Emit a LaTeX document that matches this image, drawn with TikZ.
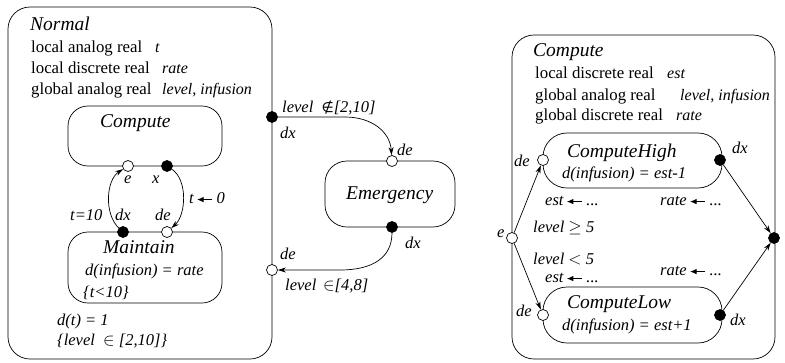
\documentclass[tikz,border=0pt]{standalone}
\usepackage{fontspec}
\setmainfont{Liberation Serif}
\newfontfamily\symfont{DejaVu Sans}
\usetikzlibrary{arrows.meta}
\newcommand{\asgn}{\tikz[baseline=-0.45ex,x=1pt,y=1pt]{\draw[line width=1pt,-{Latex[length=6.5pt,width=5.5pt]}] (15,0)--(0,0);}}
\begin{document}
\begin{tikzpicture}[x=1pt,y=-1pt,
  txt/.style={anchor=base west,inner sep=0pt,font=\fontsize{16.8}{20}\selectfont},
  ivar/.style={anchor=base west,inner sep=0pt,font=\fontsize{16}{19}\selectfont\itshape},
  ttl/.style={anchor=base west,inner sep=0pt,font=\fontsize{19.5}{23}\selectfont\itshape},
  lbl/.style={anchor=base west,inner sep=0pt,font=\fontsize{16.5}{19}\selectfont\itshape},
  openport/.style={circle,draw,fill=white,inner sep=0pt,minimum size=11pt,line width=0.7pt},
  fullport/.style={circle,draw,fill=black,inner sep=0pt,minimum size=11pt,line width=0.7pt},
  box/.style={draw,rounded corners=22pt,line width=0.7pt},
  conn/.style={line width=0.7pt,-{Stealth[length=8pt,width=5pt]}}]
\useasboundingbox (0,0) rectangle (785,362);

% ---------- Normal ----------
\draw[box] (8,7) rectangle (272,359);
\node[ttl] (tNormal) at (30,30) {Normal};
\node[txt] (n1) at (31,52) {local analog real};
\node[ivar] (n1v) at (155,52) {t};
\node[txt] (n2) at (31,73) {local discrete real};
\node[ivar] (n2v) at (162,73) {rate};
\node[txt] (n3) at (31,94) {global analog real};
\node[ivar] (n3v) at (162,94) {level, infusion};

% Compute (inner)
\draw[box,rounded corners=20pt] (68,106) rectangle (222,166);
\node[ttl] (tCompute) at (100,127) {Compute};
% Maintain
\draw[box,rounded corners=20pt] (68,232) rectangle (222,303);
\node[ttl] (tMaintain) at (103,253) {Maintain};
\node[lbl] (mflow) at (85,275) {d(infusion) = rate};
\node[lbl] (minv) at (83,297) {\{t<10\}};
\node[lbl] (dt) at (57,325) {d(t) = 1};
\node[lbl] (ninv) at (57,345) {\{level \ $\in$ [2,10]\}};

% ports in Normal
\node[openport] (ce) at (128,166) {};
\node[fullport] (cx) at (167,166) {};
\node[fullport] (mdx) at (123,232) {};
\node[openport] (mde) at (167,232) {};
\node[lbl] (le) at (124,183) {e};
\node[lbl] (lx) at (152,183) {x};
\node[lbl] (lt0) at (189,203) {t\,\asgn\ 0};
\node[lbl] (lt10) at (70,220) {t=10};
\node[lbl] (ldx) at (115,220) {dx};
\node[lbl] (lde) at (155,220) {de};

\draw[conn] (mdx) .. controls (104,214) and (106,180) .. (ce);
\draw[conn] (cx) .. controls (188,180) and (186,215) .. (mde);

% Normal outer ports
\node[fullport] (ndx) at (272,117) {};
\node[openport] (nde) at (272,270) {};
\node[lbl] (lnot) at (282,112) {level \ {\symfont\fontsize{14}{17}\selectfont ∉}[2,10]};
\node[lbl] (lndx) at (280,138) {dx};
\node[lbl] (lnde) at (280,259) {de};
\node[lbl] (lin) at (285,290) {level \,$\in$[4,8]};

% ---------- Emergency ----------
\draw[box] (325,161) rectangle (455,227);
\node[ttl] (tEm) at (346,199) {Emergency};
\node[openport] (ede) at (392,161) {};
\node[fullport] (edx) at (392,227) {};
\node[lbl] (lede) at (397,155) {de};
\node[lbl] (ledx) at (405,248) {dx};

\draw[conn] (ndx) -- (345,117) .. controls (372,117) and (390,132) .. (ede);
\draw[conn] (edx) .. controls (392,258) and (372,270) .. (340,270) -- (nde);

% ---------- Compute (refinement) ----------
\draw[box] (512,35) rectangle (775,359);
\node[ttl] (tC2) at (533,56) {Compute};
\node[txt] (c1) at (535,78) {local discrete real};
\node[ivar] (c1v) at (667,78) {est};
\node[txt] (c2) at (535,100) {global analog real};
\node[ivar] (c2v) at (680,100) {level, infusion};
\node[txt] (c3) at (535,120) {global discrete real};
\node[ivar] (c3v) at (676,120) {rate};

% ComputeHigh
\draw[box,rounded corners=24pt] (543,133) rectangle (722,188);
\node[ttl] (tCH) at (567,157) {ComputeHigh};
\node[lbl] (chf) at (562,178) {d(infusion) = est-1};
% ComputeLow
\draw[box,rounded corners=24pt] (543,287) rectangle (722,343);
\node[ttl] (tCL) at (567,308) {ComputeLow};
\node[lbl] (clf) at (562,330) {d(infusion) = est+1};

\node[openport] (cpe) at (512,238) {};
\node[fullport] (cpx) at (774,238) {};
\node[openport] (chde) at (543,160) {};
\node[fullport] (chdx) at (720,160) {};
\node[openport] (clde) at (543,315) {};
\node[fullport] (cldx) at (720,315) {};

\node[lbl] (lce) at (497,237) {e};
\node[lbl] (lchde) at (514,166) {de};
\node[lbl] (lchdx) at (732,153) {dx};
\node[lbl] (lclde) at (516,316) {de};
\node[lbl] (lcldx) at (730,325) {dx};

\node[lbl] (a1) at (545,205) {est\,\asgn\ ...};
\node[lbl] (a2) at (660,205) {rate\,\asgn\ ...};
\node[lbl] (g1) at (533,232) {level $\geq$ 5};
\node[lbl] (g2) at (533,264) {level $<$ 5};
\node[lbl] (a3) at (545,282) {est\,\asgn\ ...};
\node[lbl] (a4) at (660,275) {rate\,\asgn\ ...};

\draw[conn] (cpe) -- (chde);
\draw[conn] (cpe) -- (clde);
\draw[conn] (chdx) -- (cpx);
\draw[conn] (cldx) -- (cpx);
\end{tikzpicture}
\end{document}
